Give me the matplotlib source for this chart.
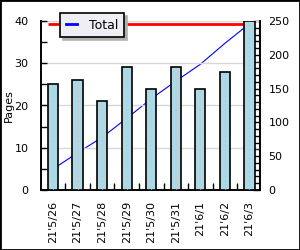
import numpy as np
import matplotlib
matplotlib.use("Agg")
import matplotlib.pyplot as plt
from matplotlib.patches import Rectangle
from matplotlib.ticker import MultipleLocator, FixedLocator

# data
dates = ["21'5/26", "21'5/27", "21'5/28", "21'5/29", "21'5/30",
         "21'5/31", "21'6/1", "21'6/2", "21'6/3"]
pages = [25, 26, 21, 29, 24, 29, 24, 28, 40]
total = [31, 55, 78, 106, 135, 161, 186, 217, 246]

plt.rcParams['font.family'] = 'DejaVu Sans'
plt.rcParams['font.size'] = 8

fig = plt.figure(figsize=(3, 2.5), dpi=100)
ax1 = fig.add_axes([41/300, 1 - 190/250, 219/300, 169/250])
ax2 = ax1.twinx()

x = np.arange(len(dates))

# total line (right axis), drawn behind the bars
ax2.plot(x, total, color="blue", lw=0.8, zorder=1, label="Total")
ax2.hlines(total[-1], x[0] - 0.2, x[-1], color="red", lw=2, zorder=1)
ax2.set_ylim(0, 250)
ax2.yaxis.set_major_locator(MultipleLocator(50))
ax2.yaxis.set_minor_locator(MultipleLocator(10))
ax2.tick_params(axis="y", which="both", direction="in", length=5, width=1, pad=6)

# bars on the left axis, placed above the line axes
ax1.set_zorder(ax2.get_zorder() + 1)
ax1.patch.set_visible(False)
ax1.bar(x, pages, width=0.42, color="#add8e6", edgecolor="black", lw=1.2, zorder=3)
ax1.vlines(x, 0, pages, colors="#e8b8b8", linestyles=(0, (1, 3)), lw=0.8, zorder=4)
ax1.set_ylim(0, 40)
ax1.set_xlim(-0.49, 8.43)
ax1.yaxis.set_major_locator(MultipleLocator(10))
ax1.yaxis.set_minor_locator(MultipleLocator(5))
ax1.tick_params(axis="y", which="both", direction="in", length=4, width=1, pad=9)
ax1.set_xticks(x)
ax1.set_xticklabels(dates, rotation=90)
ax1.xaxis.set_minor_locator(FixedLocator(x[:-1] + 0.5))
ax1.tick_params(axis="x", which="major", length=0, pad=8)
ax1.tick_params(axis="x", which="minor", direction="in", length=5, width=1)
ax1.grid(axis="y", color="#d8d8d8", lw=1, zorder=0)
ax1.set_axisbelow(True)
ax1.set_ylabel("Pages")
ax1.yaxis.set_label_coords(-27/219, 0.5)

for a in (ax1, ax2):
    a.spines["top"].set_visible(False)
    for s in ("left", "right", "bottom"):
        a.spines[s].set_linewidth(1.2)

leg = fig.legend(handles=ax2.get_lines(), labels=["Total"], loc="upper left",
                 bbox_to_anchor=(60/300, 1 - 13/250), frameon=True, fancybox=False,
                 shadow={"color": "#b0b0b0", "alpha": 1}, handlelength=0.9,
                 handletextpad=1.0, borderpad=0.45, borderaxespad=0,
                 fontsize=9)
leg.get_frame().set_facecolor("#eeeef4")
leg.get_frame().set_edgecolor("black")
leg.get_frame().set_linewidth(1.2)
leg.get_frame().set_alpha(1)
leg.get_lines()[0].set_linewidth(2)

fig.patches.append(Rectangle((0, 0), 1, 1, transform=fig.transFigure,
                             fill=False, edgecolor="black", lw=2))

fig.savefig("out.png", dpi=100)
